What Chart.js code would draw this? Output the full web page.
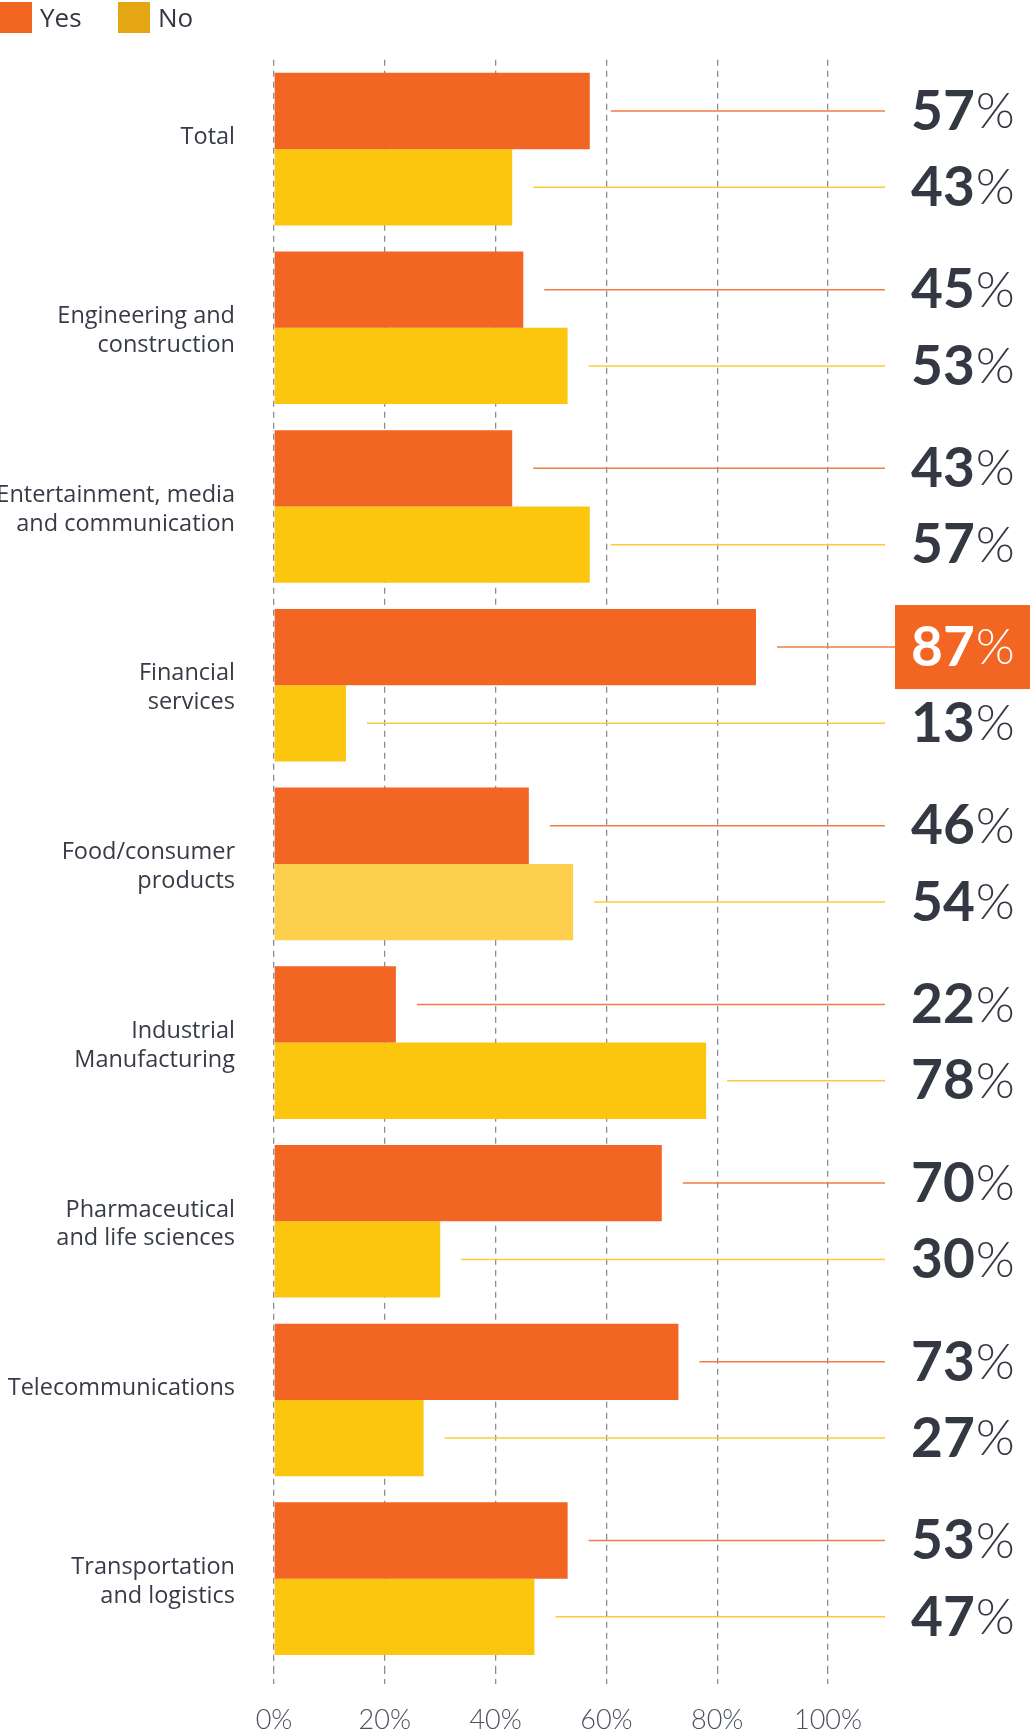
<!DOCTYPE html>
<html lang="en">
<head>
<meta charset="UTF-8">
<title>Yes / No by industry</title>
<style>
  body { margin: 0; background: #ffffff; }
  canvas { display: block; }
</style>
</head>
<body>
<canvas id="chart" width="1030" height="1735"></canvas>
<script src="https://cdn.jsdelivr.net/npm/chart.js"></script>
<script>
// answers per industry, in percent
const industries = [
  'Total',
  ['Engineering and', 'construction'],
  ['Entertainment, media', 'and communication'],
  ['Financial', 'services'],
  ['Food/consumer', 'products'],
  ['Industrial', 'Manufacturing'],
  ['Pharmaceutical', 'and life sciences'],
  'Telecommunications',
  ['Transportation', 'and logistics']
];
const yesValues = [57, 45, 43, 87, 46, 22, 70, 73, 53];
const noValues = [43, 53, 57, 13, 54, 78, 30, 27, 47];
const xTicks = [0, 20, 40, 60, 80, 100];

const ORANGE = '#f26522';
const YELLOW = '#fcc60f';
const YELLOW_SOFT = '#fdcf4c';
const TEXT = '#333842';

// Financial services "Yes" gets the filled label, Food "No" a softer bar
const boxedYes = 3;
const softNo = 4;

const LINE_END = 885;
const LABEL_X = 911;

const legendColors = [ORANGE, '#e4a613'];

const valueLabels = {
  id: 'valueLabels',
  afterDatasetsDraw(chart) {
    const ctx = chart.ctx;
    chart.data.datasets.forEach((ds, di) => {
      const meta = chart.getDatasetMeta(di);
      meta.data.forEach((bar, i) => {
        const v = ds.data[i];
        const boxed = di === 0 && i === boxedYes;
        ctx.save();
        // leader line
        ctx.strokeStyle = di === 0 ? '#f37b45' : '#fdcb3a';
        ctx.lineWidth = 1.5;
        ctx.beginPath();
        ctx.moveTo(bar.x + 21, bar.y);
        ctx.lineTo(boxed ? 895 : LINE_END, bar.y);
        ctx.stroke();

        if (boxed) {
          ctx.fillStyle = ORANGE;
          ctx.fillRect(895, bar.y - 42, 1030 - 895, 84);
        }
        const digits = String(v);
        ctx.textBaseline = 'middle';
        ctx.textAlign = 'left';
        ctx.fillStyle = boxed ? '#ffffff' : TEXT;
        ctx.font = 'bold 55px Lato';
        ctx.fillText(digits, LABEL_X, bar.y + 1);
        const w = ctx.measureText(digits).width;
        ctx.font = '300 50px Lato';
        ctx.fillText('%', LABEL_X + w + 1, bar.y + 1);
        ctx.restore();
      });
    });
  }
};

const legendBoxes = {
  id: 'legendBoxes',
  afterDraw(chart) {
    const ctx = chart.ctx;
    const xs = [0, 118];
    ctx.save();
    ctx.font = '26px "Open Sans"';
    ctx.textBaseline = 'middle';
    chart.data.datasets.forEach((ds, i) => {
      ctx.fillStyle = legendColors[i];
      ctx.fillRect(xs[i], 2, 32, 31);
      ctx.fillStyle = TEXT;
      ctx.fillText(ds.label, xs[i] + 40, 20);
    });
    ctx.restore();
  }
};

new Chart(document.getElementById('chart'), {
  type: 'bar',
  data: {
    labels: industries,
    datasets: [
      {
        label: 'Yes',
        data: yesValues,
        backgroundColor: ORANGE
      },
      {
        label: 'No',
        data: noValues,
        backgroundColor: noValues.map((v, i) => i === softNo ? YELLOW_SOFT : YELLOW)
      }
    ]
  },
  options: {
    indexAxis: 'y',
    responsive: false,
    devicePixelRatio: 1,
    animation: false,
    categoryPercentage: 0.854,
    barPercentage: 1.0,
    layout: {
      padding: { left: 0, right: 202, top: 52, bottom: 0 }
    },
    plugins: {
      legend: { display: false },
      tooltip: { enabled: false }
    },
    scales: {
      x: {
        min: 0,
        max: 100,
        afterBuildTicks: (scale) => {
          scale.ticks = xTicks.map(v => ({ value: v }));
        },
        afterFit: (scale) => { scale.height = 67; },
        ticks: {
          callback: (v) => v + '%',
          color: '#4a505c',
          font: { family: 'Lato', size: 27, weight: '300' },
          padding: 20,
          maxRotation: 0
        },
        grid: {
          color: '#8a8d93',
          lineWidth: 1.3,
          tickLength: 16,
          tickColor: '#8a8d93',
          tickBorderDash: [6, 5]
        },
        border: { display: false, dash: [6, 5] }
      },
      y: {
        afterFit: (scale) => { scale.width = 274; },
        ticks: {
          // one-line names sit on the upper line of a two-line block
          callback: function (value) {
            const name = this.getLabelForValue(value);
            return Array.isArray(name) ? name : [name, ''];
          },
          color: '#363b46',
          font: { family: 'Open Sans', size: 23.5, lineHeight: 1.225 },
          padding: 31,
          labelOffset: 3
        },
        grid: { display: false },
        border: { display: false }
      }
    }
  },
  plugins: [valueLabels, legendBoxes]
});
</script>
</body>
</html>
